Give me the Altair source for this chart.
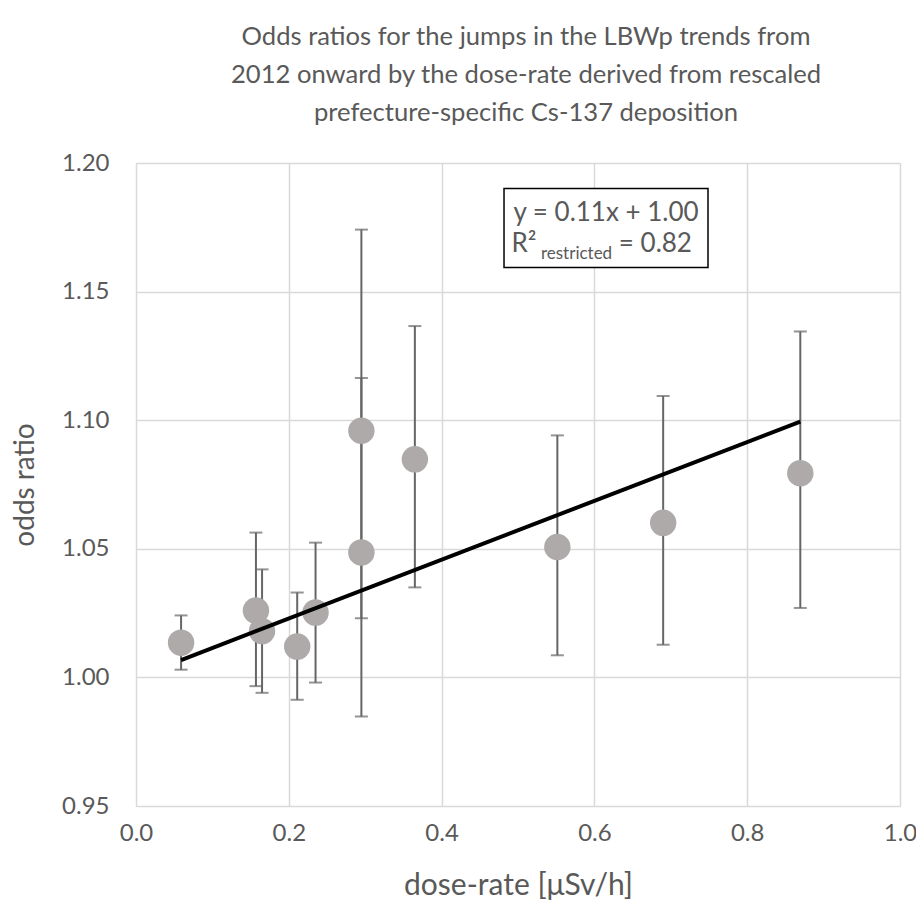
import altair as alt
import pandas as pd

# ---- data ----
dose = [0.059, 0.157, 0.165, 0.211, 0.235, 0.295, 0.295, 0.365, 0.5515, 0.690, 0.8695]
odds = [1.0135, 1.026, 1.018, 1.012, 1.0252, 1.0959, 1.0486, 1.0848, 1.0507, 1.0601, 1.0794]
ci_lo = [1.003, 0.9966, 0.994, 0.9913, 0.998, 1.023, 0.9848, 1.035, 1.0086, 1.0127, 1.027]
ci_hi = [1.0241, 1.0563, 1.042, 1.033, 1.0524, 1.1741, 1.1164, 1.1366, 1.0941, 1.1094, 1.1345]

slope = 0.1144
intercept = 1.0

x_ticks = [0.0, 0.2, 0.4, 0.6, 0.8, 1.0]
y_ticks = [0.95, 1.00, 1.05, 1.10, 1.15, 1.20]

eq_text = "y = 0.11x + 1.00"
r2_main = "R²"
r2_sub = "restricted"
r2_val = "= 0.82"

# annotation box (in data units)
box_x = [0.4817, 0.7487]
box_y = [1.1594, 1.1901]

FONT = "Lato"
GREY = "#595959"

df = pd.DataFrame({"dose": dose, "odds": odds, "lo": ci_lo, "hi": ci_hi})
xs = [min(dose), max(dose)]
line_df = pd.DataFrame({"dose": xs, "odds": [intercept + slope * v for v in xs]})

xscale = alt.Scale(domain=[0, 1.0], nice=False, zero=False)
yscale = alt.Scale(domain=[0.95, 1.20], nice=False, zero=False)

xaxis = alt.Axis(values=x_ticks, format=".1f", title="dose-rate [μSv/h]",
                 labelFontSize=24, titleFontSize=30, labelPadding=15, titlePadding=25,
                 tickSize=0, domain=False, labelFont=FONT, titleFont=FONT,
                 labelColor=GREY, titleColor=GREY, titleFontWeight="normal",
                 labelFlush=False, labelOverlap=False,
                 gridColor="#d9d9d9", gridWidth=1.5)
yaxis = alt.Axis(values=y_ticks, format=".2f", title="odds ratio",
                 labelFontSize=24, titleFontSize=28, labelPadding=27, titlePadding=22,
                 tickSize=0, domain=False, labelFont=FONT, titleFont=FONT,
                 labelColor=GREY, titleColor=GREY, titleFontWeight="normal",
                 labelFlush=False, labelOverlap=False,
                 gridColor="#d9d9d9", gridWidth=1.5)

base = alt.Chart(df)

bars = base.mark_rule(color="#666666", strokeWidth=2).encode(
    x=alt.X("dose:Q", scale=xscale, axis=xaxis),
    y=alt.Y("lo:Q", scale=yscale, axis=yaxis),
    y2="hi:Q",
)
cap_lo = base.mark_tick(color="#666666", thickness=2, size=13, orient="horizontal").encode(
    x=alt.X("dose:Q", scale=xscale), y=alt.Y("lo:Q", scale=yscale))
cap_hi = base.mark_tick(color="#666666", thickness=2, size=13, orient="horizontal").encode(
    x=alt.X("dose:Q", scale=xscale), y=alt.Y("hi:Q", scale=yscale))

points = base.mark_circle(color="#aeaaaa", opacity=1, size=700).encode(
    x=alt.X("dose:Q", scale=xscale), y=alt.Y("odds:Q", scale=yscale))

reg = alt.Chart(line_df).mark_line(color="black", strokeWidth=4).encode(
    x=alt.X("dose:Q", scale=xscale), y=alt.Y("odds:Q", scale=yscale))

box_df = pd.DataFrame({"x": [box_x[0]], "x2": [box_x[1]], "y": [box_y[0]], "y2": [box_y[1]]})
box = alt.Chart(box_df).mark_rect(fill="white", stroke="black", strokeWidth=1.5).encode(
    x=alt.X("x:Q", scale=xscale), x2="x2:Q",
    y=alt.Y("y:Q", scale=yscale), y2="y2:Q")

mid_x = (box_x[0] + box_x[1]) / 2
ann_df = pd.DataFrame({
    "t": [eq_text, r2_main, r2_sub, r2_val],
    "x": [mid_x, 0.4915, 0.5300, 0.7277],
    "y": [1.1806, 1.1684, 1.1648, 1.1684],
    "kind": ["eq", "r", "sub", "val"],
})
ann_main = alt.Chart(ann_df[ann_df["kind"] == "eq"]).mark_text(
    font=FONT, fontSize=26, color=GREY, align="center", baseline="middle").encode(
    x=alt.X("x:Q", scale=xscale), y=alt.Y("y:Q", scale=yscale), text="t:N")
ann_left = alt.Chart(ann_df[ann_df["kind"] == "r"]).mark_text(
    font=FONT, fontSize=26, color=GREY, align="left", baseline="middle").encode(
    x=alt.X("x:Q", scale=xscale), y=alt.Y("y:Q", scale=yscale), text="t:N")
ann_sub = alt.Chart(ann_df[ann_df["kind"] == "sub"]).mark_text(
    font=FONT, fontSize=17, color=GREY, align="left", baseline="middle").encode(
    x=alt.X("x:Q", scale=xscale), y=alt.Y("y:Q", scale=yscale), text="t:N")
ann_right = alt.Chart(ann_df[ann_df["kind"] == "val"]).mark_text(
    font=FONT, fontSize=26, color=GREY, align="right", baseline="middle").encode(
    x=alt.X("x:Q", scale=xscale), y=alt.Y("y:Q", scale=yscale), text="t:N")

chart = alt.layer(bars, cap_lo, cap_hi, points, reg, box, ann_main, ann_left, ann_sub, ann_right).properties(
    width=764, height=643,
    title=alt.TitleParams(
        text=["Odds ratios for the jumps in the LBWp trends from",
              "2012 onward by the dose-rate derived from rescaled",
              "prefecture-specific Cs-137 deposition"],
        font=FONT, fontSize=25.6, fontWeight="normal", color=GREY,
        lineHeight=38, anchor="middle", offset=24, dx=8),
    autosize=alt.AutoSizeParams(type="none"),
    padding={"left": 128, "top": 155, "right": 16, "bottom": 94},
).configure_view(stroke=None).configure(background="white")

chart.save("out.html", embed_options={"renderer": "svg", "actions": False})
